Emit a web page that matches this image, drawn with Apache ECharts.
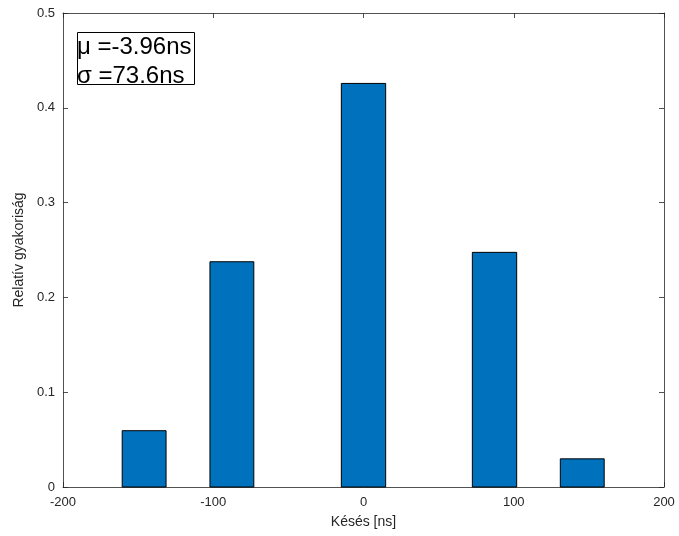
<!DOCTYPE html>
<html><head><meta charset="utf-8">
<script src="https://cdn.jsdelivr.net/npm/echarts@6/dist/echarts.min.js"></script>
<style>html,body{margin:0;padding:0;background:#fff}#c{width:679px;height:536px}</style>
</head><body><div id="c"></div>
<script>
const binCenters = [-146, -87.6, 0, 87.2, 145.6];
const binWidth = [29.2, 29.2, 29.5, 29.5, 29.2];
const relFreq = [0.0594, 0.2376, 0.4257, 0.2475, 0.0297];
const xTicks = [-200, -100, 0, 100, 200];
const statLines = ['μ =-3.96ns', 'σ =73.6ns'];
const xLabel = 'Késés [ns]';
const yLabel = 'Relatív gyakoriság';

const data = binCenters.map((c, i) => [c, relFreq[i], binWidth[i]]);
const axisCol = '#262626';
const font = 'Liberation Sans, Arial, sans-serif';
const chart = echarts.init(document.getElementById('c'));
const tickStyle = {show: true, inside: true, length: 5, lineStyle: {color: axisCol, width: 0.8}};
const lineStyle = {show: true, onZero: false, lineStyle: {color: axisCol, width: 0.8}};
chart.setOption({
  animation: false,
  grid: {left: 63, right: 15, top: 13, bottom: 49},
  xAxis: [
    {type: 'value', min: xTicks[0], max: xTicks[xTicks.length - 1], interval: 100, position: 'bottom',
     axisLine: lineStyle, axisTick: tickStyle, splitLine: {show: false},
     axisLabel: {color: axisCol, fontSize: 13, fontFamily: font, margin: 9},
     name: xLabel, nameLocation: 'middle', nameGap: 28,
     nameTextStyle: {color: axisCol, fontSize: 14, fontFamily: font}},
    {type: 'value', min: xTicks[0], max: xTicks[xTicks.length - 1], interval: 100, position: 'top',
     axisLine: lineStyle, axisTick: tickStyle, splitLine: {show: false}, axisLabel: {show: false}}
  ],
  yAxis: [
    {type: 'value', min: 0, max: 0.5, interval: 0.1, position: 'left',
     axisLine: lineStyle, axisTick: tickStyle, splitLine: {show: false},
     axisLabel: {color: axisCol, fontSize: 13, fontFamily: font, margin: 8,
       formatter: v => (Math.round(v * 10) / 10).toString()},
     name: yLabel, nameLocation: 'middle', nameGap: 35,
     nameTextStyle: {color: axisCol, fontSize: 14, fontFamily: font}},
    {type: 'value', min: 0, max: 0.5, interval: 0.1, position: 'right',
     axisLine: lineStyle, axisTick: tickStyle, splitLine: {show: false}, axisLabel: {show: false}}
  ],
  series: [{
    type: 'custom', xAxisIndex: 0, yAxisIndex: 0, data: data,
    renderItem: function (params, api) {
      const c = api.value(0), h = api.value(1), w = api.value(2);
      const p0 = api.coord([c - w / 2, h]);
      const p1 = api.coord([c + w / 2, 0]);
      return {type: 'rect', shape: {x: p0[0], y: p0[1], width: p1[0] - p0[0], height: p1[1] - p0[1]},
        style: {fill: '#0072BD', stroke: '#000', lineWidth: 1}};
    }
  }],
  graphic: [
    {type: 'rect', left: 77, top: 32, shape: {width: 117, height: 52},
     style: {fill: '#fff', stroke: '#000', lineWidth: 1}, z: 100},
    {type: 'text', left: 77, top: 35, z: 101,
     style: {text: statLines[0], fill: '#000', font: '24px Liberation Sans, Arial, sans-serif'}},
    {type: 'text', left: 77, top: 64, z: 101,
     style: {text: statLines[1], fill: '#000', font: '24px Liberation Sans, Arial, sans-serif'}}
  ]
});
</script></body></html>
